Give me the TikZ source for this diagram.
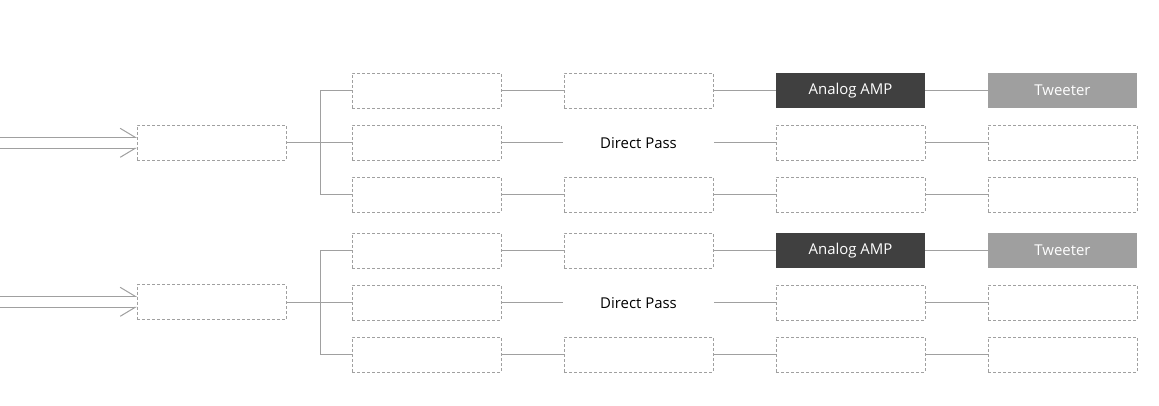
\documentclass[tikz,border=0pt]{standalone}
\usepackage{fontspec}
\setmainfont{Open Sans}
\usetikzlibrary{arrows.meta}
\definecolor{wire-gray}{HTML}{A0A0A0}
\definecolor{amp-dark}{HTML}{404040}
\definecolor{tweet-gray}{HTML}{9F9F9F}

\begin{document}
\begin{tikzpicture}[x=0.75pt, y=-0.75pt,
      every node/.style={font=\fontsize{11.2}{13}\selectfont, inner sep=0pt, outer sep=0pt,
                         minimum width=111.75pt, minimum height=26.25pt},
      slot/.style={draw=wire-gray, dash pattern=on 2.25pt off 1.5pt, line width=0.6pt},
      ampbox/.style={fill=amp-dark, text=white},
      tweetbox/.style={fill=tweet-gray, text=white},
      wire/.style={draw=wire-gray, line width=0.75pt},
      feedup/.style={wire, -{Straight Barb[harpoon, length=11.25pt, width=13.5pt, line width=0.75pt]}},
      feeddown/.style={wire, -{Straight Barb[harpoon, swap, length=11.25pt, width=13.5pt, line width=0.75pt]}}]
    \useasboundingbox (0,0) rectangle (1159,405);

    % upper chain
    \node[slot] (in1) at (211.5,142.5) {};
    \node[slot] (ch1a) at (426.5,90.5) {};
    \node[slot] (ch1b) at (426.5,142.5) {};
    \node[slot] (ch1c) at (426.5,194.5) {};
    \node[slot] (flt1a) at (638.5,90.5) {};
    \node (flt1b) at (638.5,143.5) {Direct Pass};
    \node[slot] (flt1c) at (638.5,194.5) {};
    \node[ampbox] (amp1a) at (850.5,90.5) {Analog AMP};
    \node[slot] (amp1b) at (850.5,142.5) {};
    \node[slot] (amp1c) at (850.5,194.5) {};
    \node[tweetbox] (spk1a) at (1062.5,90.5) {Tweeter};
    \node[slot] (spk1b) at (1062.5,142.5) {};
    \node[slot] (spk1c) at (1062.5,194.5) {};
    \coordinate (src1a) at (0,137.3);
    \coordinate (src1b) at (0,148.3);
    \coordinate (fork1) at (320,142.5);

    \draw[feedup] (src1a) -- (src1a -| in1.west);
    \draw[feeddown] (src1b) -- (src1b -| in1.west);
    \draw[wire] (in1.east) -- (ch1b.west);
    \draw[wire] (fork1) |- (ch1a.west);
    \draw[wire] (fork1) |- (ch1c.west);
    \draw[wire] (ch1a) -- (flt1a) (flt1a) -- (amp1a) (amp1a) -- (spk1a);
    \draw[wire] (ch1b.east) -- ++(62,0);
    \draw[wire] (amp1b.west) -- ++(-62,0);
    \draw[wire] (amp1b) -- (spk1b);
    \draw[wire] (ch1c) -- (flt1c) (flt1c) -- (amp1c) (amp1c) -- (spk1c);

    % lower chain
    \node[slot] (in2) at (211.5,302) {};
    \node[slot] (ch2a) at (426.5,250.5) {};
    \node[slot] (ch2b) at (426.5,302.5) {};
    \node[slot] (ch2c) at (426.5,354.5) {};
    \node[slot] (flt2a) at (638.5,250.5) {};
    \node (flt2b) at (638.5,303.5) {Direct Pass};
    \node[slot] (flt2c) at (638.5,354.5) {};
    \node[ampbox] (amp2a) at (850.5,250.5) {Analog AMP};
    \node[slot] (amp2b) at (850.5,302.5) {};
    \node[slot] (amp2c) at (850.5,354.5) {};
    \node[tweetbox] (spk2a) at (1062.5,250.5) {Tweeter};
    \node[slot] (spk2b) at (1062.5,302.5) {};
    \node[slot] (spk2c) at (1062.5,354.5) {};
    \coordinate (src2a) at (0,296.3);
    \coordinate (src2b) at (0,307.3);
    \coordinate (fork2) at (320,302.5);

    \draw[feedup] (src2a) -- (src2a -| in2.west);
    \draw[feeddown] (src2b) -- (src2b -| in2.west);
    \draw[wire] (in2.east |- fork2) -- (ch2b.west);
    \draw[wire] (fork2) |- (ch2a.west);
    \draw[wire] (fork2) |- (ch2c.west);
    \draw[wire] (ch2a) -- (flt2a) (flt2a) -- (amp2a) (amp2a) -- (spk2a);
    \draw[wire] (ch2b.east) -- ++(62,0);
    \draw[wire] (amp2b.west) -- ++(-62,0);
    \draw[wire] (amp2b) -- (spk2b);
    \draw[wire] (ch2c) -- (flt2c) (flt2c) -- (amp2c) (amp2c) -- (spk2c);
  \end{tikzpicture}
\end{document}
